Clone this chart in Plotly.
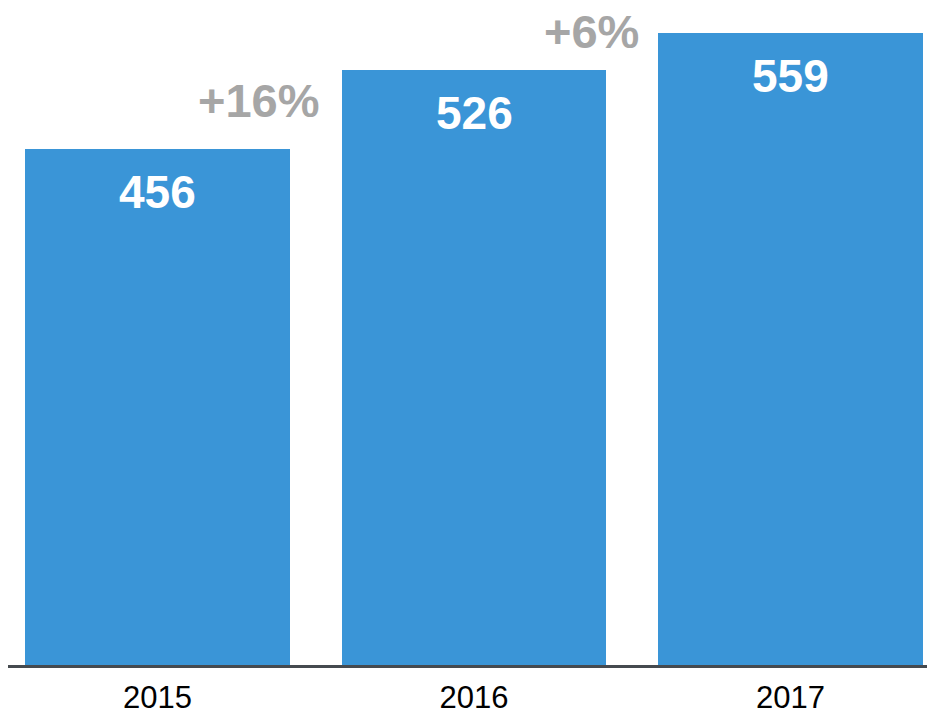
import plotly.graph_objects as go

years = ["2015", "2016", "2017"]
values = [456, 526, 559]
growth_labels = ["+16%", "+6%"]

BAR_COLOR = "#3A95D7"
GREY = "#A6A6A6"
FONT = "Liberation Sans, Arial, sans-serif"

xs = list(range(len(years)))

fig = go.Figure()
fig.add_trace(go.Bar(
    x=xs, y=values, width=0.837,
    marker=dict(color=BAR_COLOR, line=dict(width=0)),
    hoverinfo="skip",
))

# value labels inside bars
for xi, v in zip(xs, values):
    fig.add_annotation(
        x=xi, y=v, xref="x", yref="y", text=f"<b>{v}</b>",
        showarrow=False, yshift=-43, yanchor="middle",
        font=dict(family=FONT, size=46, color="white"),
    )

# growth labels between bars
growth_offsets = [(0.32, 49), (0.371, 39)]
for i, (lab, (dx, dy)) in enumerate(zip(growth_labels, growth_offsets)):
    fig.add_annotation(
        x=xs[i] + dx, y=values[i], xref="x", yref="y", text=f"<b>{lab}</b>",
        showarrow=False, yshift=dy, yanchor="middle",
        font=dict(family=FONT, size=47, color=GREY),
    )

fig.update_layout(
    width=927, height=711,
    margin=dict(l=8, r=0, t=0, b=46, autoexpand=False),
    paper_bgcolor="white", plot_bgcolor="white",
    showlegend=False,
    bargap=0,
    xaxis=dict(
        range=[-0.4724, 2.4313],
        tickvals=xs, ticktext=years,
        showline=True, linecolor="#454A4F", linewidth=3,
        showgrid=False, zeroline=False, ticks="",
        automargin=False,
        ticklabelstandoff=3,
        tickfont=dict(family=FONT, size=31, color="black"),
        fixedrange=True,
    ),
    yaxis=dict(
        range=[0, 588], visible=False, showgrid=False, zeroline=False,
        automargin=False, fixedrange=True,
    ),
)

fig.write_html(
    "out.html",
    config={"displayModeBar": False, "staticPlot": True},
    post_script="document.body.style.margin='0';document.body.style.overflow='hidden';",
)
